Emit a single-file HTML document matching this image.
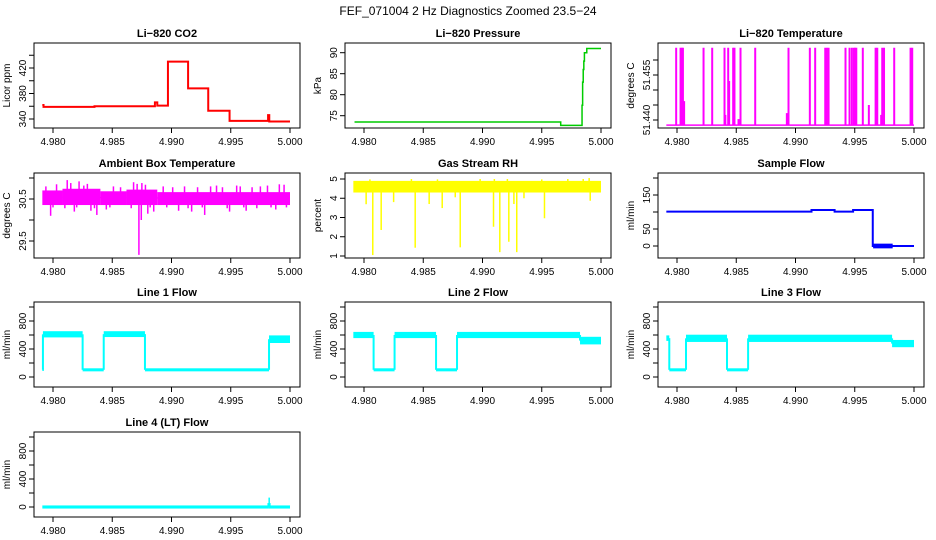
<!DOCTYPE html>
<html><head><meta charset="utf-8"><style>
body{margin:0;background:#fff}
svg{display:block;font-family:"Liberation Sans",Arial,sans-serif}
</style></head><body>
<svg id="c" width="936" height="540" viewBox="0 0 936 540">
<text x="468" y="15" text-anchor="middle" font-size="12">FEF_071004  2 Hz Diagnostics Zoomed 23.5−24</text>
</svg>
<script>
// shared x axis
const xTicks=[4.980,4.985,4.990,4.995,5.000];
const xTickLabels=["4.980","4.985","4.990","4.995","5.000"];
// CO2 step series
const co2X=[4.9791,4.9792,4.9835,4.9864,4.9886,4.9888,4.9897,4.9914,4.9931,4.9949,4.99815,4.99825,5.0000];
const co2Y=[362,359,360,360,366,361,430,388,353,337,346,336,336];
// Pressure step series
const presX=[4.9792,4.9966,4.9984,4.99845,4.9985,4.99855,4.9986,4.9988,5.0000];
const presY=[73.5,72.7,77.5,83,86,88,90,91,91];
// Temperature spikes
const tempBase=51.4383;
const tempSpikeX=[4.97993,4.98030,4.98040,4.98050,4.98060,4.98224,4.98297,4.98401,4.98408,4.98432,4.98440,4.98474,4.98485,4.98519,4.98536,4.98660,4.98927,4.98941,4.99121,4.99166,4.99251,4.99259,4.99265,4.99279,4.99422,4.99456,4.99476,4.99493,4.99503,4.99513,4.99568,4.99619,4.99676,4.99690,4.99723,4.99732,4.99747,4.99833,4.99971,4.99985];
const tempSpikeY=[51.4641,51.4641,51.4641,51.4641,51.4463,51.4641,51.4641,51.4641,51.4417,51.4641,51.453,51.4641,51.4641,51.4403,51.4641,51.4641,51.4423,51.4641,51.4641,51.4641,51.4641,51.4417,51.4641,51.4641,51.4641,51.4641,51.4641,51.4641,51.4641,51.4641,51.4641,51.445,51.4641,51.4641,51.4417,51.4641,51.4641,51.4641,51.4641,51.4641];
// Ambient box temperature
const ambStart=[4.9791,4.9808,4.9840,4.9862,4.9888];
const ambEnd=[4.9808,4.9840,4.9862,4.9888,5.0000];
const ambLo=[30.38,30.38,30.38,30.38,30.38];
const ambHi=[30.68,30.72,30.66,30.7,30.64];
const ambSpikeX=[4.9798,4.9818,4.9832,4.9837,4.9845,4.98725,4.98745,4.9880,4.9885,4.9906,4.9917,4.9928,4.9949,4.9963,4.9988,4.9812,4.9822,4.9868,4.9875,4.9991,4.9938,4.9955,4.9794,4.9803,4.9815,4.9826,4.9829,4.9851,4.9857,4.9871,4.9878,4.9893,4.9901,4.9911,4.9922,4.9933,4.9943,4.9958,4.9968,4.9975,4.9981,4.9995,4.9800,4.9810,4.9820,4.9835,4.9848,4.9866,4.9882,4.9896,4.9914,4.9926,4.9947,4.9961,4.9972,4.9984,4.9997];
const ambSpikeY=[30.1,30.2,30.22,30.12,30.25,29.17,30.0,30.15,30.2,30.22,30.2,30.12,30.2,30.22,30.25,30.95,30.92,30.9,30.88,30.85,30.82,30.82,30.8,30.85,30.88,30.82,30.86,30.8,30.78,30.86,30.84,30.8,30.78,30.8,30.78,30.8,30.78,30.8,30.78,30.8,30.82,30.84,30.3,30.28,30.3,30.28,30.3,30.28,30.3,30.3,30.28,30.3,30.28,30.3,30.28,30.3,30.3];
// Gas stream RH
const rhStart=[4.9791];
const rhEnd=[5.0000];
const rhLo=[4.35];
const rhHi=[4.85];
const rhSpikeX=[4.98018,4.98074,4.98145,4.98432,4.9866,4.98812,4.99093,4.99146,4.99222,4.99289,4.99265,4.99523,4.99909,4.9825,4.9855,4.9877,4.9898,4.9921,4.9935,4.9972,4.9990,4.9805,4.9840,4.9862,4.9910,4.9950,4.9985];
const rhSpikeY=[3.69,1.05,2.35,1.43,3.49,1.45,2.52,1.2,1.74,1.2,3.7,2.96,3.87,3.8,3.7,4.05,5.0,5.0,4.0,5.0,5.05,4.98,5.0,4.98,5.0,4.98,5.0];
// Sample flow
const sfX=[4.9791,4.99135,4.9933,4.99486,4.99652,4.9982,5.0000];
const sfY=[101,106,101,106,0,0,0];
const sfNoiseStart=[4.99655];
const sfNoiseEnd=[4.9982];
const sfNoiseLo=[-4];
const sfNoiseHi=[4];
// Line flows: segments
const l1Start=[4.9791,4.97915,4.9825,4.98428,4.98776,4.99823];
const l1End=[4.97915,4.9825,4.98428,4.98776,4.99823,5.0000];
const l1Lo=[100,580,95,585,95,500];
const l1Hi=[110,640,110,640,110,580];
const l2Start=[4.9791,4.98081,4.98258,4.98608,4.98785,4.99823];
const l2End=[4.98081,4.98258,4.98608,4.98785,4.99823,5.0000];
const l2Lo=[570,95,570,95,570,480];
const l2Hi=[630,110,630,110,630,560];
const l3Start=[4.9791,4.97935,4.98076,4.98422,4.9860,4.99815];
const l3End=[4.97935,4.98076,4.98422,4.9860,4.99815,5.0000];
const l3Lo=[530,95,515,95,515,440];
const l3Hi=[580,110,590,110,590,515];
const l4Start=[4.9791,4.99818,4.99828];
const l4End=[4.99818,4.99828,5.0000];
const l4Lo=[-8,-8,-8];
const l4Hi=[8,120,8];

const NS="http://www.w3.org/2000/svg";
const svg=document.getElementById('c');
const colL=[34,345,658], rowT=[43,173,302,432], W=266, H=85;
function mk(tag,attrs,parent){const e=document.createElementNS(NS,tag);for(const k in attrs)e.setAttribute(k,attrs[k]);(parent||svg).appendChild(e);return e;}

function panel(col,row,title,ylab,yA,yB,yTicks,yLabels,name){
  const L=colL[col],T=rowT[row];
  const g=mk('g',{});
  
  
  const sx=v=>L+19+(v-4.980)*11850;
  const sy=v=>T+yA[1]+(v-yA[0])*(yB[1]-yA[1])/(yB[0]-yA[0]);
  const plot=mk('g',{},g);
  
  
  const box=mk('rect',{x:L,y:T,width:W,height:H,fill:'none',stroke:'#000','stroke-width':1},g);
  
  
  const t=mk('text',{x:L+W/2,y:T-6,'text-anchor':'middle','font-size':11,'font-weight':'bold'},g);
  t.textContent=title;
  
  
  xTicks.forEach((v,i)=>{
    mk('line',{x1:sx(v),x2:sx(v),y1:T+H,y2:T+H+5,stroke:'#000'},g);
    const tx=mk('text',{x:sx(v),y:T+H+17,'text-anchor':'middle','font-size':10},g);
    tx.textContent=xTickLabels[i];
    
    
  });
  yTicks.forEach((v,i)=>{
    const y=sy(v);
    mk('line',{x1:L-5,x2:L,y1:y,y2:y,stroke:'#000'},g);
    if(yLabels[i]){
      const ty=mk('text',{x:0,y:0,'text-anchor':'middle','font-size':10,transform:`translate(${L-8},${y}) rotate(-90)`},g);
      ty.textContent=yLabels[i];
      
      
    }
  });
  const yl=mk('text',{x:0,y:0,'text-anchor':'middle','font-size':10,transform:`translate(${L-24},${T+H/2}) rotate(-90)`},g);
  yl.textContent=ylab;
  
  
  return {sx,sy,plot};
}
function stepLine(p,xs,ys,color,w){
  let d='';
  for(let i=0;i<xs.length;i++){
    const x=p.sx(xs[i]),y=p.sy(ys[i]);
    if(i===0)d+=`M${x},${y}`;else d+=`L${x},${p.sy(ys[i-1])}L${x},${y}`;
  }
  const e=mk('path',{d,fill:'none',stroke:color,'stroke-width':w},p.plot);
  
  
}
function segs(p,s,e,lo,hi,color){
  for(let i=0;i<s.length;i++){
    const y1=p.sy(hi[i]),y2=p.sy(lo[i]);
    const r=mk('rect',{x:p.sx(s[i]),y:Math.min(y1,y2)-1,width:Math.max(1.5,p.sx(e[i])-p.sx(s[i])),height:Math.max(2.5,Math.abs(y2-y1)+2),fill:color},p.plot);
    
    
    if(i>0){
      const a=p.sy((lo[i-1]+hi[i-1])/2),b=p.sy((lo[i]+hi[i])/2);
      mk('line',{x1:p.sx(s[i]),x2:p.sx(s[i]),y1:a,y2:b,stroke:color,'stroke-width':2},p.plot);
    }
  }
}
function spikes(p,xs,ys,base,color,w){
  for(let i=0;i<xs.length;i++){
    const l=mk('line',{x1:p.sx(xs[i]),x2:p.sx(xs[i]),y1:p.sy(base),y2:p.sy(ys[i]),stroke:color,'stroke-width':w},p.plot);
    
    
  }
}
const CY='#00ffff';
let p;
p=panel(0,0,'Li−820 CO2','Licor ppm',[340,76],[420,25],[340,360,380,400,420,440],['340','','380','','420',''],'co2');
stepLine(p,co2X,co2Y,'#ff0000',2);
p=panel(1,0,'Li−820 Pressure','kPa',[75,72.7],[90,9.7],[75,80,85,90],['75','80','85','90'],'pressure');
stepLine(p,presX,presY,'#00cc00',1.5);
p=panel(2,0,'Li−820 Temperature','degrees C',[51.440,77],[51.455,32],[51.440,51.445,51.450,51.455,51.460],['51.440','','','51.455',''],'temperature');
mk('line',{x1:p.sx(4.9791),x2:p.sx(5.0),y1:p.sy(tempBase),y2:p.sy(tempBase),stroke:'#ff00ff','stroke-width':1.5},p.plot);
spikes(p,tempSpikeX,tempSpikeY,tempBase,'#ff00ff',2);
p=panel(0,1,'Ambient Box Temperature','degrees C',[30.5,26],[29.5,68],[29.5,30.0,30.5,31.0],['29.5','','30.5',''],'ambient');
segs(p,ambStart,ambEnd,ambLo,ambHi,'#ff00ff');
spikes(p,ambSpikeX,ambSpikeY,30.5,'#ff00ff',1.5);
p=panel(1,1,'Gas Stream RH','percent',[5,6],[1,83],[1,2,3,4,5],['1','2','3','4','5'],'rh');
segs(p,rhStart,rhEnd,rhLo,rhHi,'#ffff00');
spikes(p,rhSpikeX,rhSpikeY,4.6,'#ffff00',1.5);
p=panel(2,1,'Sample Flow','ml/min',[0,73],[150,22],[0,50,100,150,200],['0','50','','150',''],'sample-flow');
stepLine(p,sfX,sfY,'#0000ff',2);
segs(p,sfNoiseStart,sfNoiseEnd,sfNoiseLo,sfNoiseHi,'#0000ff');
const flowTicks=[0,200,400,600,800,1000], flowLabels=['0','','400','','800',''];
p=panel(0,2,'Line 1 Flow','ml/min',[0,75],[800,19],flowTicks,flowLabels,'line1-flow');
segs(p,l1Start,l1End,l1Lo,l1Hi,CY);
p=panel(1,2,'Line 2 Flow','ml/min',[0,75],[800,19],flowTicks,flowLabels,'line2-flow');
segs(p,l2Start,l2End,l2Lo,l2Hi,CY);
p=panel(2,2,'Line 3 Flow','ml/min',[0,75],[800,19],flowTicks,flowLabels,'line3-flow');
segs(p,l3Start,l3End,l3Lo,l3Hi,CY);
p=panel(0,3,'Line 4 (LT) Flow','ml/min',[0,75],[800,19],flowTicks,flowLabels,'line4-flow');
segs(p,l4Start,l4End,l4Lo,l4Hi,CY);
</script>
</body></html>
